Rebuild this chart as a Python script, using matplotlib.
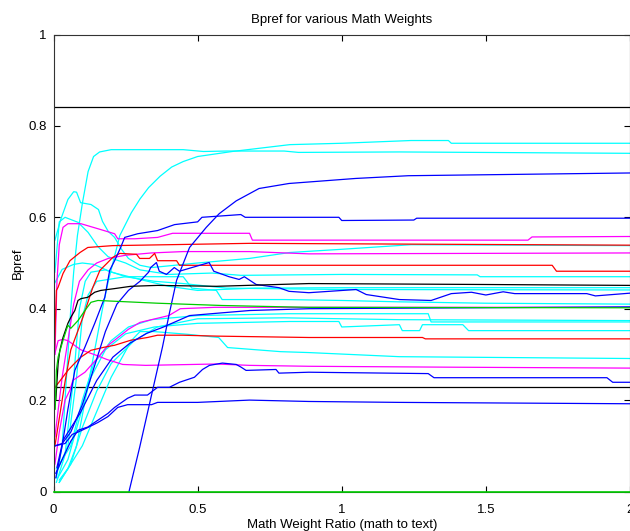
import matplotlib
matplotlib.use("Agg")
import matplotlib.pyplot as plt

# ---------------- data ----------------
x_ticks = [0, 0.5, 1, 1.5, 2]
x_tick_labels = ["0", "0.5", "1", "1.5", "2"]
y_ticks = [0, 0.2, 0.4, 0.6, 0.8, 1]
y_tick_labels = ["0", "0.2", "0.4", "0.6", "0.8", "1"]

# cyan series
c1_x = [0.02, 0.05, 0.08, 0.11, 0.14, 0.17, 0.19, 0.21, 0.23, 0.27, 0.30, 0.33, 0.37, 0.41, 0.45, 0.50, 0.62, 0.70, 0.82, 1.00, 1.24, 1.37, 1.38, 2.0]
c1_y = [0.025, 0.05, 0.10, 0.20, 0.30, 0.40, 0.46, 0.51, 0.56, 0.61, 0.64, 0.665, 0.69, 0.71, 0.722, 0.733, 0.744, 0.75, 0.759, 0.762, 0.768, 0.768, 0.762, 0.762]
c2_x = [0.01, 0.03, 0.045, 0.06, 0.07, 0.083, 0.10, 0.12, 0.139, 0.16, 0.20, 0.30, 0.45, 0.52, 0.60, 0.80, 0.85, 1.20, 2.0]
c2_y = [0.03, 0.10, 0.25, 0.40, 0.48, 0.56, 0.63, 0.70, 0.733, 0.743, 0.748, 0.748, 0.748, 0.744, 0.745, 0.745, 0.742, 0.743, 0.740]
c3_x = [0.005, 0.025, 0.05, 0.07, 0.08, 0.094, 0.13, 0.156, 0.17, 0.19, 0.212, 0.236, 0.26, 0.30, 0.34, 0.50, 0.68, 0.82, 1.00, 1.24, 2.0]
c3_y = [0.55, 0.595, 0.639, 0.656, 0.655, 0.632, 0.628, 0.617, 0.591, 0.569, 0.556, 0.53, 0.51, 0.495, 0.49, 0.50, 0.51, 0.523, 0.53, 0.54, 0.538]
c4_x = [0.005, 0.02, 0.04, 0.085, 0.12, 0.154, 0.189, 0.212, 0.25, 0.30, 0.40, 0.55, 0.65, 1.00, 1.47, 1.48, 2.0]
c4_y = [0.48, 0.59, 0.60, 0.589, 0.567, 0.536, 0.514, 0.508, 0.50, 0.485, 0.475, 0.478, 0.473, 0.475, 0.474, 0.470, 0.470]
c5_x = [0.005, 0.03, 0.07, 0.10, 0.14, 0.20, 0.30, 0.40, 0.50, 0.70, 1.00, 2.0]
c5_y = [0.457, 0.486, 0.497, 0.50, 0.497, 0.48, 0.464, 0.449, 0.44, 0.445, 0.446, 0.446]
c6_x = [0.01, 0.04, 0.07, 0.09, 0.11, 0.13, 0.18, 0.25, 0.35, 0.45, 0.60, 1.00, 2.0]
c6_y = [0.02, 0.08, 0.25, 0.40, 0.46, 0.48, 0.485, 0.47, 0.46, 0.455, 0.445, 0.442, 0.441]
c7_x = [0.01, 0.05, 0.08, 0.10, 0.12, 0.15, 0.25, 0.337, 0.45, 0.48, 0.565, 0.585, 0.80, 1.00, 1.20, 1.50, 2.0]
c7_y = [0.04, 0.10, 0.25, 0.38, 0.43, 0.46, 0.47, 0.47, 0.47, 0.445, 0.44, 0.42, 0.42, 0.418, 0.415, 0.412, 0.41]
c8_x = [0.01, 0.06, 0.10, 0.14, 0.20, 0.26, 0.34, 0.50, 0.82, 1.30, 1.31, 2.0]
c8_y = [0.05, 0.10, 0.20, 0.28, 0.33, 0.36, 0.376, 0.385, 0.389, 0.389, 0.371, 0.371]
c9_x = [0.015, 0.05, 0.09, 0.13, 0.18, 0.25, 0.35, 0.50, 0.82, 0.99, 1.00, 1.20, 1.21, 1.27, 1.28, 1.42, 1.44, 2.0]
c9_y = [0.03, 0.07, 0.16, 0.25, 0.31, 0.345, 0.36, 0.368, 0.372, 0.372, 0.36, 0.365, 0.352, 0.352, 0.365, 0.365, 0.352, 0.352]
c10_x = [0.02, 0.06, 0.10, 0.15, 0.20, 0.28, 0.36, 0.50, 0.80, 1.20, 2.0]
c10_y = [0.02, 0.06, 0.14, 0.22, 0.28, 0.33, 0.36, 0.378, 0.38, 0.376, 0.374]
c11_x = [0.02, 0.10, 0.20, 0.27, 0.30, 0.347, 0.465, 0.573, 0.604, 0.788, 0.886, 1.20, 2.0]
c11_y = [0.02, 0.10, 0.25, 0.33, 0.35, 0.35, 0.344, 0.337, 0.315, 0.306, 0.304, 0.295, 0.291]

# blue series
b1_x = [0.262, 0.299, 0.344, 0.378, 0.402, 0.427, 0.472, 0.53, 0.575, 0.634, 0.713, 0.817, 1.048, 1.231, 2.0]
b1_y = [0.0, 0.097, 0.222, 0.316, 0.39, 0.462, 0.534, 0.578, 0.608, 0.636, 0.663, 0.674, 0.685, 0.691, 0.697]
b2_x = [0.008, 0.03, 0.05, 0.074, 0.109, 0.143, 0.178, 0.195, 0.212, 0.233, 0.247, 0.292, 0.361, 0.42, 0.50, 0.515, 0.65, 0.665, 0.99, 1.0, 1.25, 1.26, 2.0]
b2_y = [0.03, 0.10, 0.18, 0.265, 0.316, 0.368, 0.425, 0.484, 0.505, 0.534, 0.556, 0.564, 0.571, 0.584, 0.59, 0.60, 0.606, 0.60, 0.60, 0.593, 0.594, 0.598, 0.598]
b3_x = [0.006, 0.03, 0.06, 0.10, 0.14, 0.18, 0.22, 0.26, 0.30, 0.33, 0.337, 0.357, 0.367, 0.392, 0.419, 0.437, 0.48, 0.54, 0.556, 0.609, 0.644, 0.662, 0.703, 0.782, 0.817, 0.886, 1.05, 1.085, 1.20, 1.31, 1.38, 1.45, 1.50, 1.56, 1.60, 1.85, 1.88, 2.0]
b3_y = [0.10, 0.105, 0.13, 0.19, 0.27, 0.35, 0.41, 0.44, 0.46, 0.48, 0.49, 0.501, 0.482, 0.475, 0.49, 0.482, 0.49, 0.501, 0.482, 0.47, 0.464, 0.47, 0.453, 0.446, 0.438, 0.435, 0.442, 0.431, 0.42, 0.418, 0.433, 0.436, 0.43, 0.437, 0.433, 0.433, 0.428, 0.434]
b4_x = [0.012, 0.033, 0.092, 0.15, 0.206, 0.264, 0.323, 0.378, 0.472, 0.68, 0.886, 2.0]
b4_y = [0.053, 0.112, 0.171, 0.243, 0.294, 0.324, 0.346, 0.359, 0.385, 0.396, 0.40, 0.404]
b5_x = [0.008, 0.03, 0.06, 0.085, 0.119, 0.154, 0.189, 0.212, 0.257, 0.282, 0.326, 0.361, 0.402, 0.437, 0.489, 0.517, 0.541, 0.586, 0.634, 0.651, 0.668, 0.772, 0.782, 0.886, 1.30, 1.32, 1.92, 1.94, 2.0]
b5_y = [0.04, 0.07, 0.11, 0.134, 0.141, 0.156, 0.171, 0.184, 0.204, 0.211, 0.211, 0.228, 0.228, 0.239, 0.25, 0.267, 0.276, 0.281, 0.278, 0.272, 0.265, 0.267, 0.259, 0.261, 0.258, 0.249, 0.249, 0.239, 0.239]
b6_x = [0.005, 0.04, 0.065, 0.085, 0.119, 0.154, 0.189, 0.223, 0.257, 0.30, 0.34, 0.361, 0.402, 0.50, 0.68, 0.886, 1.20, 2.0]
b6_y = [0.10, 0.105, 0.125, 0.13, 0.14, 0.151, 0.164, 0.184, 0.19, 0.19, 0.19, 0.195, 0.195, 0.195, 0.20, 0.197, 0.195, 0.192]

# magenta series
m1_x = [0.005, 0.012, 0.02, 0.033, 0.05, 0.095, 0.154, 0.212, 0.223, 0.282, 0.361, 0.413, 0.68, 0.69, 1.646, 1.66, 2.0]
m1_y = [0.30, 0.46, 0.54, 0.578, 0.586, 0.586, 0.575, 0.564, 0.553, 0.553, 0.556, 0.565, 0.565, 0.55, 0.55, 0.557, 0.558]
m2_x = [0.005, 0.03, 0.05, 0.07, 0.09, 0.12, 0.15, 0.19, 0.25, 0.34, 0.45, 0.68, 0.886, 2.0]
m2_y = [0.12, 0.25, 0.33, 0.41, 0.46, 0.485, 0.50, 0.51, 0.517, 0.522, 0.525, 0.525, 0.52, 0.522]
m3_x = [0.005, 0.02, 0.04, 0.057, 0.067, 0.109, 0.15, 0.19, 0.22, 0.26, 0.30, 0.40, 0.44, 0.56, 2.0]
m3_y = [0.06, 0.13, 0.20, 0.222, 0.243, 0.261, 0.29, 0.32, 0.335, 0.355, 0.37, 0.385, 0.40, 0.403, 0.403]
m4_x = [0.004, 0.016, 0.033, 0.05, 0.095, 0.14, 0.185, 0.24, 0.32, 0.565, 0.68, 0.886, 1.38, 2.0]
m4_y = [0.30, 0.33, 0.333, 0.33, 0.31, 0.30, 0.289, 0.278, 0.276, 0.279, 0.276, 0.274, 0.272, 0.270]

# red series
r1_x = [0.003, 0.01, 0.016, 0.033, 0.057, 0.092, 0.119, 0.205, 0.68, 2.0]
r1_y = [0.30, 0.44, 0.447, 0.477, 0.505, 0.523, 0.534, 0.538, 0.543, 0.539]
r2_x = [0.005, 0.02, 0.04, 0.06, 0.102, 0.136, 0.161, 0.185, 0.205, 0.23, 0.288, 0.299, 0.333, 0.351, 0.361, 0.427, 0.437, 0.68, 1.73, 1.745, 2.0]
r2_y = [0.10, 0.16, 0.24, 0.31, 0.381, 0.446, 0.484, 0.499, 0.512, 0.521, 0.519, 0.51, 0.51, 0.521, 0.505, 0.505, 0.495, 0.495, 0.495, 0.482, 0.482]
r3_x = [0.005, 0.02, 0.05, 0.074, 0.095, 0.13, 0.178, 0.212, 0.268, 0.326, 0.361, 0.447, 0.565, 0.886, 1.28, 1.29, 2.0]
r3_y = [0.228, 0.24, 0.265, 0.281, 0.294, 0.309, 0.316, 0.32, 0.331, 0.337, 0.342, 0.342, 0.34, 0.337, 0.337, 0.334, 0.334]

# black series
k1_x = [0.0, 2.0]
k1_y = [0.842, 0.842]
k2_x = [0.005, 2.0]
k2_y = [0.228, 0.228]
k3_x = [0.008, 0.016, 0.022, 0.033, 0.05, 0.06, 0.074, 0.085, 0.095, 0.119, 0.143, 0.164, 0.212, 0.268, 0.361, 0.565, 0.886, 1.49, 2.0]
k3_y = [0.20, 0.28, 0.309, 0.337, 0.368, 0.381, 0.396, 0.418, 0.422, 0.425, 0.436, 0.44, 0.444, 0.449, 0.451, 0.449, 0.455, 0.453, 0.451]

# green series
g1_x = [0.006, 0.01, 0.016, 0.033, 0.05, 0.06, 0.085, 0.109, 0.13, 0.154, 0.361, 0.585, 0.886, 2.0]
g1_y = [0.18, 0.265, 0.294, 0.331, 0.364, 0.357, 0.374, 0.396, 0.414, 0.418, 0.412, 0.407, 0.403, 0.402]
g2_x = [0.0, 2.0]
g2_y = [0.0, 0.0]

# ---------------- styling ----------------
CYAN, BLUE, MAG, RED, BLACK, GREEN = "#00ffff", "#0000ff", "#ff00ff", "#ff0000", "#000000", "#00cc00"

series = [
    (k1_x, k1_y, BLACK), (k2_x, k2_y, BLACK),
    (c1_x, c1_y, CYAN), (c2_x, c2_y, CYAN), (c3_x, c3_y, CYAN), (c4_x, c4_y, CYAN),
    (c5_x, c5_y, CYAN), (c6_x, c6_y, CYAN), (c7_x, c7_y, CYAN), (c8_x, c8_y, CYAN),
    (c9_x, c9_y, CYAN), (c10_x, c10_y, CYAN), (c11_x, c11_y, CYAN),
    (m1_x, m1_y, MAG), (m2_x, m2_y, MAG), (m3_x, m3_y, MAG), (m4_x, m4_y, MAG),
    (r1_x, r1_y, RED), (r2_x, r2_y, RED), (r3_x, r3_y, RED),
    (b1_x, b1_y, BLUE), (b2_x, b2_y, BLUE), (b3_x, b3_y, BLUE), (b4_x, b4_y, BLUE),
    (b5_x, b5_y, BLUE), (b6_x, b6_y, BLUE),
    (k3_x, k3_y, BLACK), (g1_x, g1_y, GREEN),
]

plt.rcParams["font.family"] = ["Liberation Sans", "DejaVu Sans"]

fig = plt.figure(figsize=(6.30, 5.31), dpi=100)
ax = fig.add_axes([53.5 / 630, (531 - 491.5) / 531, 576.5 / 630, 457.0 / 531])

for xs, ys, col in series:
    ax.plot(xs, ys, color=col, linewidth=0.9, clip_on=True)
# the zero-valued green series sits on the bottom axis line, drawn over it
ax.plot(g2_x, g2_y, color=GREEN, linewidth=1.2, clip_on=False, zorder=5)

ax.set_xlim(0, 2)
ax.set_ylim(0, 1)
ax.set_xticks(x_ticks)
ax.set_xticklabels(x_tick_labels)
ax.set_yticks(y_ticks)
ax.set_yticklabels(y_tick_labels)
ax.tick_params(direction="in", length=4, width=0.8, top=True, right=True,
               labelsize=9.5, colors="#000000")
ax.tick_params(axis="x", pad=9)
ax.tick_params(axis="y", pad=5)
for sp in ax.spines.values():
    sp.set_linewidth(0.8)
    sp.set_color("#333333")

ax.set_title("Bpref for various Math Weights", fontsize=9.5, pad=8)
ax.set_xlabel("Math Weight Ratio (math to text)", fontsize=9.5, labelpad=2)
ax.set_ylabel("Bpref", fontsize=9.5, labelpad=3)

fig.savefig("out.png", dpi=100)
